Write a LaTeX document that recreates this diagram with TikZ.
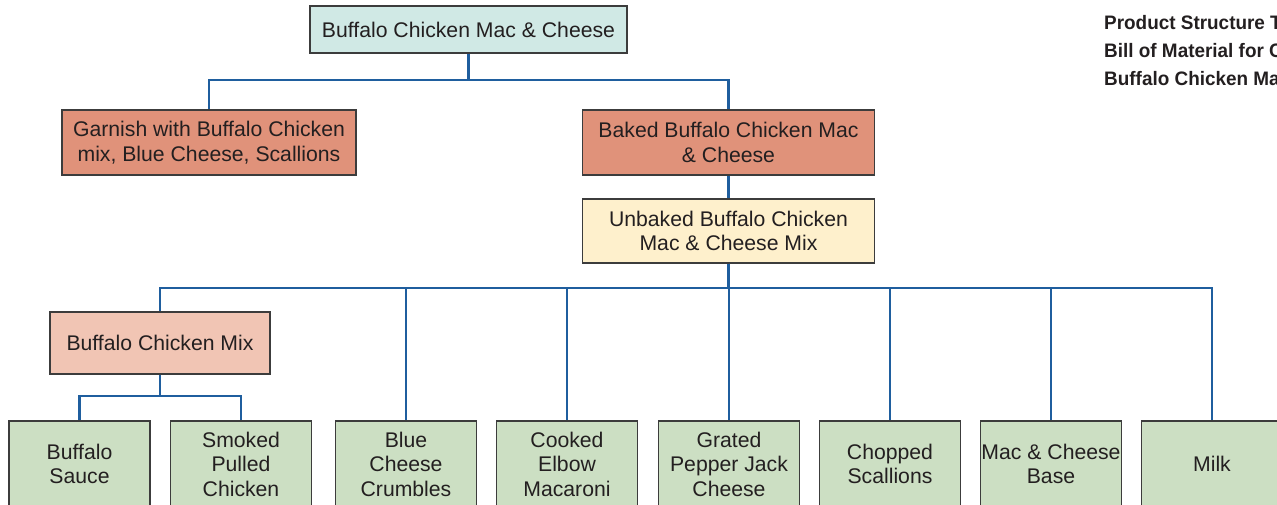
\documentclass[tikz,border=0pt]{standalone}
\usepackage{fontspec}
\setmainfont{Liberation Sans}
\newfontfamily\titlefont[FakeStretch=0.97]{Liberation Sans Bold}
\definecolor{cteal}{RGB}{208,233,229}
\definecolor{csalmon}{RGB}{224,146,122}
\definecolor{cyellow}{RGB}{254,240,204}
\definecolor{cpink}{RGB}{241,197,180}
\definecolor{cgreen}{RGB}{204,223,195}
\definecolor{cblue}{RGB}{31,94,158}
\definecolor{cborder}{RGB}{60,60,60}
\definecolor{ctext}{RGB}{35,31,32}
\tikzset{
  box/.style={draw=cborder, line width=1.3pt, align=center, inner sep=1pt,
    text=ctext, font=\fontsize{21.2}{24.5}\selectfont},
  leaf/.style={box, fill=cgreen, minimum width=141pt, minimum height=86pt},
  conn/.style={draw=cblue, line width=2.9pt}
}
\begin{document}
\begin{tikzpicture}[x=1pt,y=-1pt]
\useasboundingbox (0,0) rectangle (1277,504);
\clip (0,0) rectangle (1277,504);
% connectors first (behind boxes)
\coordinate (bus1) at (0,80);
\coordinate (bus2) at (0,288);
\coordinate (bus3) at (0,396);
% nodes
\node[box, fill=cteal, minimum width=317pt, minimum height=47pt] (top) at (468.5,29.5) {Buffalo Chicken Mac \& Cheese};
\node[box, fill=csalmon, minimum width=294pt, minimum height=65pt] (garnish) at (209,142.5) {Garnish with Buffalo Chicken\\mix, Blue Cheese, Scallions};
\node[box, fill=csalmon, minimum width=292pt, minimum height=65pt] (baked) at (728.5,142.5) {Baked Buffalo Chicken Mac\\\& Cheese};
\node[box, fill=cyellow, minimum width=292pt, minimum height=64pt] (unbaked) at (728.5,231) {Unbaked Buffalo Chicken\\Mac \& Cheese Mix};
\node[box, fill=cpink, minimum width=220pt, minimum height=62pt] (bcm) at (160,343) {Buffalo Chicken Mix};
\node[leaf] (sauce) at (79.5,464) {Buffalo\\Sauce};
\node[leaf] (pulled) at (241,464) {Smoked\\Pulled\\Chicken};
\node[leaf] (blue) at (406,464) {Blue\\Cheese\\Crumbles};
\node[leaf] (elbow) at (567,464) {Cooked\\Elbow\\Macaroni};
\node[leaf] (pepper) at (729,464) {Grated\\Pepper Jack\\Cheese};
\node[leaf] (scallions) at (890,464) {Chopped\\Scallions};
\node[leaf] (base) at (1051,464) {Mac \& Cheese\\Base};
\node[leaf] (milk) at (1212,464) {Milk};
% connectors
\draw[conn] (top.south) -- (top.south |- bus1) -| (garnish.north);
\draw[conn] (top.south) -- (top.south |- bus1) -| (baked.north);
\draw[conn] (baked.south) -- (unbaked.north);
\foreach \c in {bcm,blue,elbow,pepper,scallions,base,milk}{
  \draw[conn] (unbaked.south) -- (unbaked.south |- bus2) -| (\c.north);
}
\draw[conn] (bcm.south) -- (bcm.south |- bus3) -| (sauce.north);
\draw[conn] (bcm.south) -- (bcm.south |- bus3) -| (pulled.north);
% title
\node[anchor=base west, align=left, inner sep=0pt, text=ctext,
  font=\fontsize{19.5}{28}\titlefont] (title) at (1104,85)
  {Product Structure T\\Bill of Material for C\\Buffalo Chicken Ma};
\end{tikzpicture}
\end{document}
